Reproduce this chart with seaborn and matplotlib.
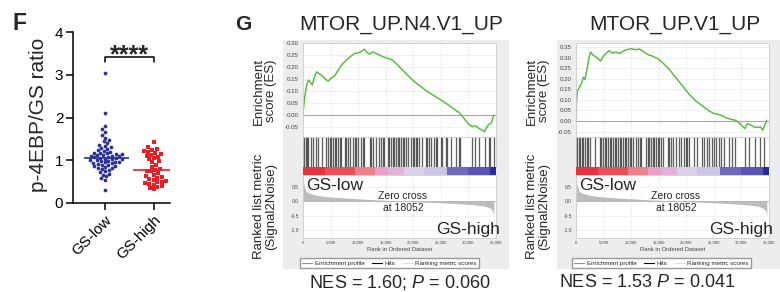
import numpy as np
import pandas as pd
import matplotlib
matplotlib.use('Agg')
import matplotlib.pyplot as plt
import seaborn as sns
from matplotlib.patches import Rectangle
from matplotlib.lines import Line2D
from matplotlib.ticker import FuncFormatter

# ---------------- data ----------------
groups = ['GS-low', 'GS-high']
gs_low = [3.03, 2.10,
          1.80, 1.74, 1.67, 1.60, 1.53,
          1.48, 1.44, 1.40, 1.36, 1.33, 1.30,
          1.28, 1.26, 1.24, 1.22, 1.20, 1.18, 1.17, 1.16,
          1.15, 1.14, 1.13, 1.12, 1.11, 1.10, 1.09, 1.08, 1.07, 1.06,
          1.05, 1.04, 1.03, 1.02, 1.01, 1.00, 0.99, 0.98, 0.97, 0.96,
          0.95, 0.94, 0.93, 0.92, 0.90, 0.89, 0.87, 0.86, 0.84, 0.83, 0.82, 0.80,
          0.78, 0.75, 0.72, 0.69, 0.66,
          0.62, 0.58, 0.54, 0.30]
gs_high = [1.43, 1.30, 1.27, 1.25, 1.22, 1.20, 1.18, 1.15, 1.13, 1.10, 1.08, 1.05,
           1.02, 0.98, 0.95, 0.90, 0.85, 0.80, 0.78, 0.76, 0.74, 0.70, 0.66, 0.62,
           0.60, 0.58, 0.55, 0.53, 0.52, 0.50, 0.48, 0.47, 0.45, 0.43, 0.40, 0.38,
           0.35, 0.32]
sig_label = '****'

titles = ['MTOR_UP.N4.V1_UP', 'MTOR_UP.V1_UP']
nes_labels = [r'NES = 1.60; $\mathit{P}$ = 0.060', r'NES = 1.53 $\mathit{P}$ = 0.041']

es1_rank = [0, 120, 360, 660, 960, 1260, 1680, 2160, 2460, 2880, 3360, 3960, 4560,
            5160, 5770, 6370, 6970, 7570, 8170, 8770, 9370, 10270, 10870, 11170,
            11470, 12070, 12670, 13270, 14180, 15380, 15980, 16580, 17780, 18980,
            20180, 21380, 22590, 23790, 24990, 26190, 27390, 28290, 29190, 30090,
            30700, 31300, 31900, 32500, 32920, 33280, 33700, 34120, 34600]
es1_val = [0.0, 0.035, 0.084, 0.126, 0.146, 0.140, 0.126, 0.165, 0.181, 0.174, 0.167,
           0.153, 0.142, 0.156, 0.165, 0.188, 0.209, 0.223, 0.237, 0.248, 0.258, 0.262,
           0.272, 0.276, 0.265, 0.255, 0.265, 0.258, 0.248, 0.237, 0.234, 0.223, 0.195,
           0.167, 0.140, 0.119, 0.098, 0.081, 0.063, 0.045, 0.025, 0.011, -0.014,
           -0.039, -0.049, -0.045, -0.056, -0.063, -0.070, -0.053, -0.039, -0.035, 0.0]

es2_rank = [0, 60, 240, 600, 1020, 1320, 1620, 1800, 2040, 2400, 2640, 3000, 3420,
            4020, 4450, 4930, 5530, 6010, 6610, 7330, 7930, 8530, 9130, 10030, 10930,
            11530, 12130, 13040, 13940, 14840, 15740, 16940, 18140, 19340, 20540,
            21750, 22950, 24150, 25050, 26250, 27150, 28050, 28950, 29550, 30160,
            30640, 31060, 31660, 32260, 32860, 33460, 33880, 34240, 34600]
es2_val = [0.0, 0.078, 0.141, 0.157, 0.180, 0.207, 0.196, 0.220, 0.251, 0.306, 0.326,
           0.314, 0.306, 0.295, 0.283, 0.306, 0.322, 0.333, 0.322, 0.326, 0.319, 0.330,
           0.337, 0.342, 0.337, 0.341, 0.330, 0.314, 0.306, 0.295, 0.275, 0.243, 0.204,
           0.165, 0.126, 0.094, 0.071, 0.047, 0.035, 0.028, 0.016, 0.008, 0.003,
           -0.008, -0.024, -0.036, -0.013, -0.019, -0.028, -0.031, -0.028, -0.044,
           -0.019, 0.003]

hits1 = [60, 240, 480, 720, 960, 1440, 1860, 2280, 2760, 3360, 4260, 4560, 4860, 5160,
         5460, 5760, 6060, 6360, 6660, 6960, 7560, 7860, 8160, 8460, 9060, 9360, 9660,
         9960, 10560, 10860, 11040, 12060, 12360, 12660, 13260, 13860, 14160, 14460,
         14760, 15360, 15660, 15960, 16260, 16560, 16860, 17160, 17460, 17760, 18060,
         18360, 18660, 18960, 19560, 19860, 20160, 20460, 20760, 21060, 21660, 22260,
         22560, 22860, 23160, 23760, 24060, 24360, 24960, 25260, 25860, 26160, 26760,
         27660, 28260, 28560, 30660, 31260, 31860, 33060, 33660, 33960, 34560]
hits2 = [0, 240, 480, 720, 1020, 1320, 1620, 1920, 2220, 2520, 3420, 4320, 4620, 4920,
         5220, 5520, 5820, 6120, 6420, 6720, 7020, 7320, 7620, 7920, 8220, 8520, 8820,
         9120, 9420, 9720, 10020, 10320, 10920, 11220, 11520, 11820, 12720, 13020,
         13320, 13620, 13920, 14220, 14520, 14820, 15120, 15420, 15720, 16620, 16920,
         17220, 17520, 18120, 18720, 19020, 19620, 19920, 20220, 20520, 21420, 22020,
         22920, 23220, 23820, 24120, 24720, 25020, 25320, 25920, 26220, 26820, 27720,
         28320, 28920, 30720, 31320, 32520, 33420, 34020]

metric_rank = [0, 100, 500, 1000, 2000, 3000, 5000, 8000, 12000, 15000, 18052,
               21000, 25000, 28000, 31000, 33000, 34000, 34400, 34600]
metric_val = [0.90, 0.60, 0.35, 0.28, 0.22, 0.18, 0.14, 0.10, 0.055, 0.025, 0.0,
              -0.03, -0.06, -0.09, -0.13, -0.18, -0.25, -0.35, -0.50]
zero_cross = 18052

strip_edges = [0, 4000, 9400, 13000, 15500, 18400, 22000, 26200, 30000, 34000, 35000]
strip_colors = ['#E5353D', '#E9505A', '#EF7F8A', '#EAA0C6', '#E4B2D6', '#D9D2EA',
                '#CCC6E4', '#6E69C0', '#5853B4', '#2C2B9A']

es_ticks = [[-0.05, 0.0, 0.05, 0.10, 0.15, 0.20, 0.25, 0.30],
            [-0.05, 0.0, 0.05, 0.10, 0.15, 0.20, 0.25, 0.30, 0.35]]
es_lims = [(-0.092, 0.302), (-0.076, 0.369)]
metric_ticks = [-1.0, -0.5, 0.0, 0.5]
rank_ticks = [0, 5000, 10000, 15000, 20000, 25000, 30000, 35000]
legend_labels = ['Enrichment profile', 'Hits', 'Ranking metric scores']

# ---------------- style ----------------
sns.set_style('white')
plt.rcParams['font.family'] = ['Liberation Sans', 'DejaVu Sans']
plt.rcParams['mathtext.fontset'] = 'custom'
plt.rcParams['mathtext.rm'] = 'Liberation Sans'
plt.rcParams['mathtext.it'] = 'Liberation Sans:italic'

BLUE = '#2B3192'
RED = '#EC1C24'
GREEN = '#5DBB46'
BG = '#EDEDED'

W, H = 780, 292
fig = plt.figure(figsize=(W / 100, H / 100), dpi=100)


def pax(x0, y0, x1, y1):
    return fig.add_axes([x0 / W, 1 - y1 / H, (x1 - x0) / W, (y1 - y0) / H])


def ftext(x, y, s, **kw):
    return fig.text(x / W, 1 - y / H, s, **kw)


# ---------------- panel F ----------------
axF = pax(73, 32, 170, 203)
df_low = pd.DataFrame({'group': 'GS-low', 'ratio': gs_low})
df_high = pd.DataFrame({'group': 'GS-high', 'ratio': gs_high})
sns.swarmplot(data=df_low, x='group', y='ratio', order=groups, color=BLUE,
              marker='o', size=2.7, linewidth=0, ax=axF, warn_thresh=1)
sns.swarmplot(data=df_high, x='group', y='ratio', order=groups, color=RED,
              marker='s', size=3.0, linewidth=0, ax=axF, warn_thresh=1)
for i, vals, c in [(0, gs_low, BLUE), (1, gs_high, RED)]:
    axF.hlines(np.median(vals), i - 0.42, i + 0.50, color=c, lw=1.2, zorder=5)
axF.set_xlim(-0.65, 1.33)
axF.set_ylim(0, 4)
axF.set_yticks([0, 1, 2, 3, 4])
axF.set_xlabel('')
axF.set_ylabel('')
for s in ['top', 'right']:
    axF.spines[s].set_visible(False)
for s in ['left', 'bottom']:
    axF.spines[s].set_linewidth(1.1)
    axF.spines[s].set_color('black')
axF.tick_params(axis='both', which='major', direction='out', length=5, width=1.1,
                labelsize=11, colors='black', bottom=True, left=True, pad=2)
plt.setp(axF.get_xticklabels(), rotation=45, ha='right', rotation_mode='anchor')
axF.plot([0, 0, 1, 1], [3.30, 3.42, 3.42, 3.30], color='black', lw=1.1, clip_on=False)
axF.text(0.5, 3.30, sig_label, ha='center', va='baseline', fontsize=18,
         fontweight='bold')
ftext(39, 115, 'p-4EBP/GS ratio', rotation=90, ha='center', va='center', fontsize=15)
ftext(13, 30, 'F', fontsize=16.5, fontweight='bold', va='baseline', ha='left')
ftext(235, 30, 'G', fontsize=15, fontweight='bold', va='baseline', ha='left')

# ---------------- panel G ----------------
es_ranks = [es1_rank, es2_rank]
es_vals = [es1_val, es2_val]
hits_all = [hits1, hits2]
bg_boxes = [(283, 40, 509, 269), (557, 40, 780, 269)]
title_x = [401, 675]
nes_x = [400, 647]
legend_x = [389.5, 661.5]

for k in range(2):
    dx = 273 * k
    bx0, by0, bx1, by1 = bg_boxes[k]
    fig.patches.append(Rectangle((bx0 / W, 1 - by1 / H), (bx1 - bx0) / W,
                                 (by1 - by0) / H, transform=fig.transFigure,
                                 facecolor=BG, edgecolor='none', zorder=-5))

    # ES curve
    axE = pax(303 + dx, 43, 496 + dx, 137)
    axE.set_facecolor('white')
    sns.lineplot(x=es_ranks[k], y=es_vals[k], ax=axE, color=GREEN, lw=1.1,
                 errorbar=None, sort=False)
    axE.axhline(0, color='#A8A8A8', lw=0.8, zorder=1)
    axE.set_xlim(0, 35000)
    axE.set_ylim(*es_lims[k])
    axE.set_xticks(rank_ticks)
    axE.set_xticklabels([])
    axE.set_yticks(es_ticks[k])
    axE.yaxis.set_major_formatter(FuncFormatter(lambda v, p: f'{v:.2f}'))
    axE.grid(True, ls=(0, (2, 2)), color='#DADADA', lw=0.5)
    axE.tick_params(axis='both', length=0, labelsize=4.4, colors='#444444', pad=3)
    for s in axE.spines.values():
        s.set_color('#CCCCCC')
        s.set_linewidth(0.6)

    # Hits
    axH = pax(303 + dx, 137, 496 + dx, 167)
    axH.set_facecolor('white')
    axH.vlines(hits_all[k], 0, 1, color='black', lw=0.95, alpha=0.62)
    axH.set_xlim(0, 35000)
    axH.set_ylim(0, 1)
    axH.set_xticks([])
    axH.set_yticks([])
    for s in axH.spines.values():
        s.set_color('#CCCCCC')
        s.set_linewidth(0.6)

    # colour strip
    axS = pax(303 + dx, 167, 496 + dx, 175)
    for i, c in enumerate(strip_colors):
        axS.axvspan(strip_edges[i], strip_edges[i + 1], color=c, lw=0)
    axS.set_xlim(0, 35000)
    axS.set_xticks([])
    axS.set_yticks([])
    for s in axS.spines.values():
        s.set_visible(False)

    # ranked list metric
    axR = pax(303 + dx, 175, 496 + dx, 238)
    axR.set_facecolor('white')
    axR.fill_between(metric_rank, metric_val, 0, color='#BDBDBD', lw=0)
    axR.axhline(0, color='#AAAAAA', lw=0.5)
    axR.set_xlim(0, 35000)
    axR.set_ylim(-1.276, 0.897)
    axR.set_yticks(metric_ticks)
    axR.yaxis.set_major_formatter(FuncFormatter(lambda v, p: f'{v:.1f}'))
    axR.set_xticks(rank_ticks)
    axR.xaxis.set_major_formatter(FuncFormatter(lambda v, p: f'{int(v):,}'))
    axR.grid(True, ls=(0, (2, 2)), color='#DADADA', lw=0.5)
    axR.tick_params(axis='y', length=0, labelsize=3.5, colors='#444444', pad=3)
    axR.tick_params(axis='x', length=0, labelsize=3.0, colors='#444444', pad=2)
    axR.set_xlabel('Rank in Ordered Dataset', fontsize=4.2, color='#444444', labelpad=1.5)
    for s in axR.spines.values():
        s.set_color('#CCCCCC')
        s.set_linewidth(0.6)

    # texts
    ftext(title_x[k], 30, titles[k], ha='center', va='baseline', fontsize=15)
    ftext(265 + dx, 91, 'Enrichment\nscore (ES)', rotation=90, ha='center',
          va='center', fontsize=9.5, linespacing=1.1)
    ftext(265 + dx, 206, 'Ranked list metric\n(Signal2Noise)', rotation=90,
          ha='center', va='center', fontsize=9.5, linespacing=1.1)
    ftext(306 + dx, 190, 'GS-low', ha='left', va='baseline', fontsize=12.5)
    ftext(500 + dx, 234, 'GS-high', ha='right', va='baseline', fontsize=12.5)
    ftext(403 + dx, 202, f'Zero cross\nat {zero_cross}', ha='center', va='center',
          fontsize=7.5, linespacing=1.3)
    ftext(nes_x[k], 287, nes_labels[k], ha='center', va='baseline', fontsize=13)

    handles = [Line2D([], [], color=GREEN, lw=0.8),
               Line2D([], [], color='black', lw=0.8),
               Line2D([], [], color='#DDDDDD', lw=0.8)]
    fig.legend(handles, legend_labels, loc='center',
               bbox_to_anchor=(legend_x[k] / W, 1 - 263 / H), ncol=3,
               fontsize=4.5, frameon=True, fancybox=False, edgecolor='#999999',
               facecolor='white', framealpha=1, handlelength=1.6,
               handletextpad=0.4, columnspacing=1.2, borderpad=0.35)

fig.savefig('out.png', dpi=100)
